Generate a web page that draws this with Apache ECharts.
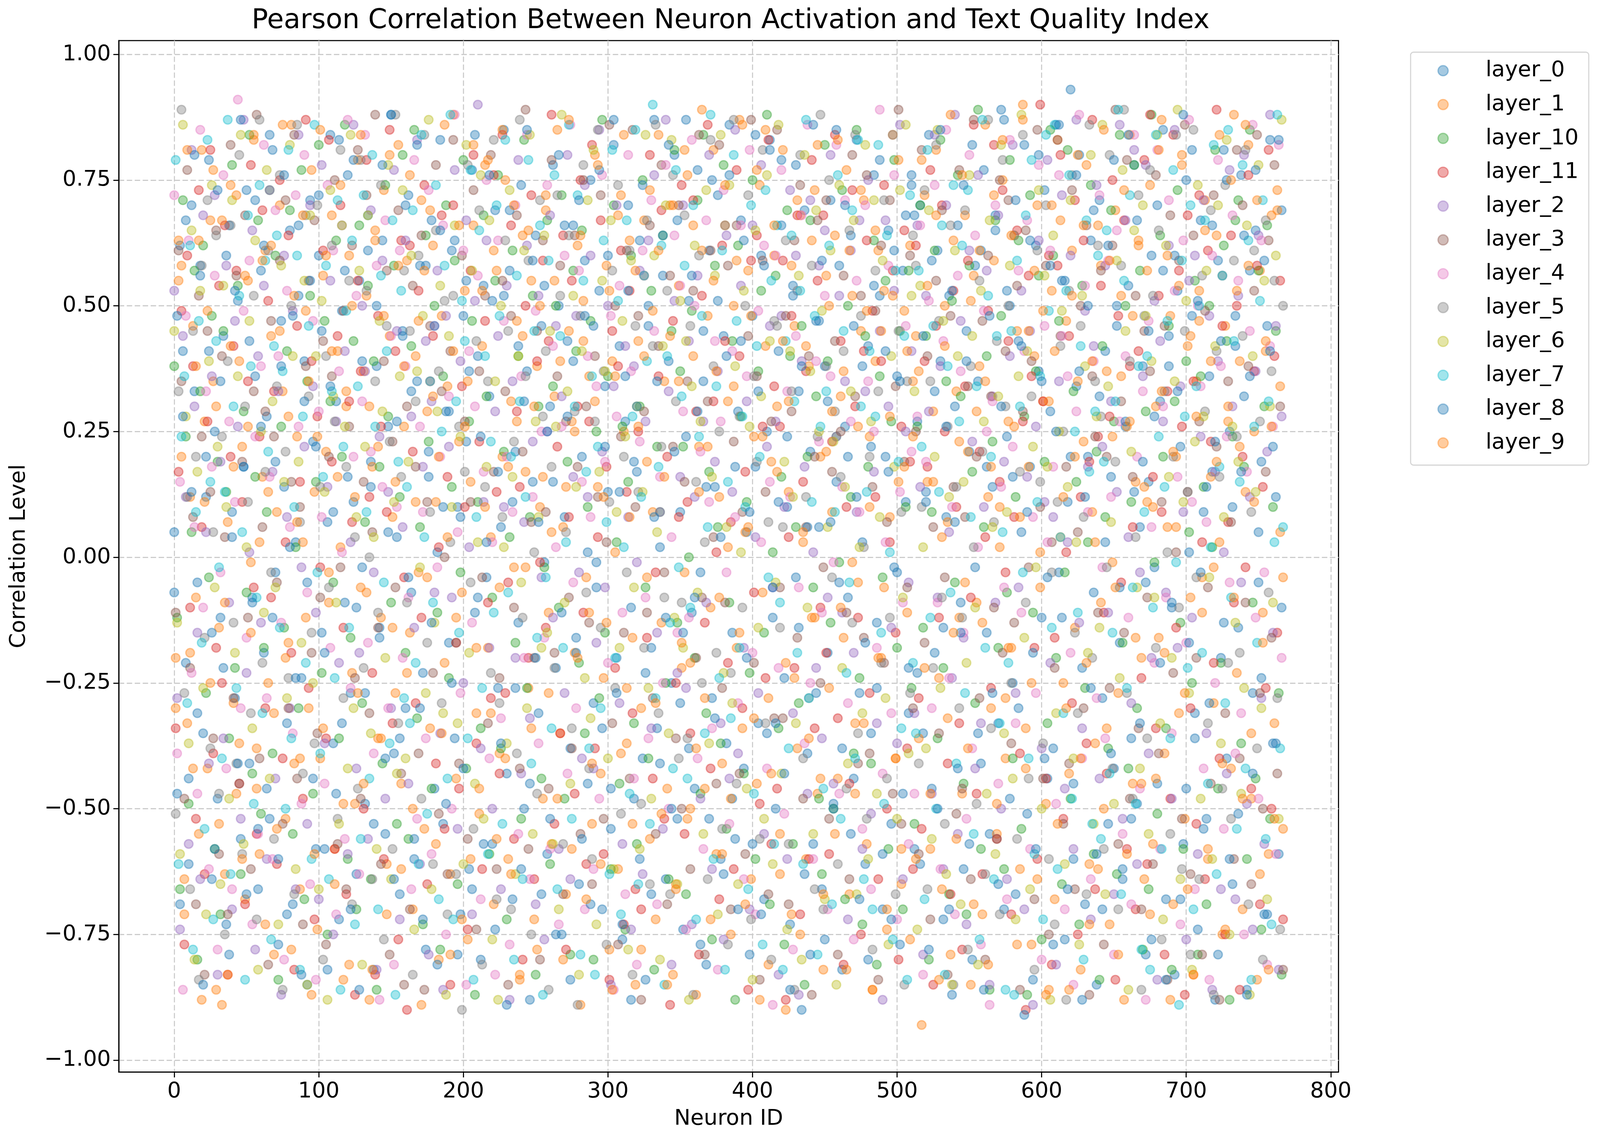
<!DOCTYPE html>
<html>
<head>
<meta charset="utf-8">
<title>Pearson Correlation Between Neuron Activation and Text Quality Index</title>
<script src="https://cdn.jsdelivr.net/npm/echarts@6/dist/echarts.min.js"></script>
<style>
    html, body { margin: 0; padding: 0; background: #fff; overflow: hidden; }
    #chart { width: 100vw; height: 100vh; }
</style>
</head>
<body>
<div id="chart"></div>
<script>
// series order as drawn (names sorted as strings)
const layerNames = ['layer_0', 'layer_1', 'layer_10', 'layer_11', 'layer_2', 'layer_3',
    'layer_4', 'layer_5', 'layer_6', 'layer_7', 'layer_8', 'layer_9'];
const layerColors = ['#1f77b4', '#ff7f0e', '#2ca02c', '#d62728', '#9467bd', '#8c564b',
    '#e377c2', '#7f7f7f', '#bcbd22', '#17becf', '#1f77b4', '#ff7f0e'];
const neuronStart = [0, 1, 0, 1, 0, 1, 0, 1, 0, 1, 0, 1];
const neuronStep = 2;

// correlation level x 100, one value per sampled neuron
const layer0 = [
    5, -47, 62, 41, -21, -61, 70, 33, -5, 58, -35, 12, 79, -64, 25, -48,
    -12, 44, -73, 66, 9, -28, 51, -56, 18, 73, -41, -8, 36, -66, 57, -19,
    28, -52, 81, -3, -77, 47, 14, -33, 65, -69, 3, 52, -24, 39, -85, 71,
    -44, 22, 60, -15, -58, 7, 84, -37, 31, -72, 49, -9, 76, -27, 11, -63,
    55, -2, -49, 68, 19, -82, 38, -14, 63, -55, 26, 88, -39, 4, -67, 45,
    -30, 72, -7, -60, 35, 58, -23, -78, 16, 67, -46, 1, 83, -53, 29, -17,
    61, -36, 10, -71, 48, 23, -62, 77, -11, 40, -80, 54, -4, 32, -57, 69,
    -26, 6, 85, -43, 57, -68, 21, -13, 74, -50, 37, -88, 15, 64, -31, 46,
    -1, -59, 30, 78, -22, 50, -75, 8, 43, -38, 66, -16, -65, 20, 59, -45,
    75, -29, -6, 53, -70, 34, 13, -54, 82, -20, 42, -76, 27, 70, -10, -48,
    17, 63, -40, -84, 46, -18, 87, -34, 2, 56, -64, 39, -25, 80, -52, 9,
    -74, 24, 51, -11, -46, 77, -3, 35, -81, 61, -28, 14, 72, -60, 44, -37,
    86, -15, -56, 29, 67, -42, 5, -79, 48, 18, -33, 60, -68, 25, 83, -12,
    -50, 41, 79, -24, 10, -73, 54, -4, 33, -90, 69, -39, 21, -57, 47, 6,
    -66, 38, -19, 71, -49, 15, 58, -82, 26, -8, 64, -44, 83, -27, 3, -61,
    42, -35, 76, -13, 52, -70, 20, 65, -53, -2, 36, -77, 57, 11, -31, 74,
    -58, 27, 70, -35, 13, 84, -46, -19, 61, 39, -72, 8, 52, -87, 30, 66,
    -9, -62, 45, 21, -80, 58, 35, -41, 77, -15, -55, 14, 68, -33, 89, -70,
    24, 50, -25, -67, 43, 5, 82, -51, 18, -84, 62, 37, -12, 73, -44, 29,
    -38, 86, -3, 55, -76, 11, 93, -60, 34, 80, -22, -69, 20, 63, -7, -85,
    71, -28, 41, -53, 16, -42, 50, -17, -64, 26, 54, -36, 78, -49, 6, 38,
    -79, 15, 60, -2, -45, 31, 85, -68, 44, -10, -83, 53, 22, -57, 75, 1,
    48, -31, -74, 67, 9, -52, 36, 17, -88, 59, -20, 81, -40, 25, -65, 42,
    -14, 76, 32, -86, 57, -27, 65, -5, 19, -71, 46, 83, -37, 12, -59, 69
];
const layer1 = [
    -20, 63, 58, -71, -33, 12, 46, -8, -55, 81, 27, -42, 67, 35, -86, -14,
    -89, -63, 7, 74, -29, -47, 39, 22, -68, 55, -1, 83, -38, -59, 16, 61,
    -25, 44, -79, 9, 70, 33, -52, -17, 86, -41, 24, -66, 3, 49, -30, 77,
    13, -74, -40, 56, 21, -9, 68, -58, 41, 2, -84, 30, 60, -23, -49, 79,
    -6, 37, 52, -88, 18, 65, -36, -12, 73, -61, 44, 8, -27, 82, -45, 26,
    59, -15, -70, 40, -3, 71, -54, 29, -34, 62, 11, -80, 48, -21, 34, -63,
    88, -44, 23, -7, 53, -76, 15, 66, -31, -51, 42, 78, -18, 4, -69, 57,
    -39, 20, 75, -60, 31, -2, 47, -83, 64, 17, -26, 55, -72, 38, 10, -48,
    69, -11, -57, 32, 85, -35, 6, -67, 45, 27, -19, 62, -89, 51, -4, 36,
    -53, 80, 14, -43, -24, 58, -78, 39, 1, -62, 72, 25, -37, 63, -16, -85,
    43, -30, 67, 19, -56, 9, -72, 84, -13, 35, -46, 70, -83, -65, 54, -22,
    -3, 76, -50, 40, -87, 22, 61, -28, 48, -10, 81, -59, 12, -41, 66, 31,
    -75, 50, -18, 87, -34, 5, 57, -64, 24, -45, 74, -7, 42, -81, 19, 60,
    30, -55, 81, -21, 13, -71, 46, -38, 68, 3, -60, 38, -12, 73, -47, 20,
    -82, 56, -26, 9, 64, -44, 32, -16, 77, -67, 52, -33, -5, 45, 71, -57,
    24, -86, 39, 61, -20, 53, -74, 8, 84, -40, 15, -65, 49, -11, 62, 35,
    44, -36, -93, 72, 15, -58, 29, 81, -24, -66, 50, 7, -79, 63, 33, -12,
    -47, 68, 21, -85, 56, -9, 38, -71, 86, 12, -30, 59, -55, 2, 75, -40,
    27, -18, 64, 45, -62, 90, -34, 18, -77, 40, 70, -6, 31, -49, -86, 53,
    -68, 83, 4, -25, 47, -43, 61, -14, 35, -82, 23, 78, -61, 9, -37, 66,
    58, -50, 37, -73, -1, 69, -27, 52, -88, 26, 84, -45, 15, 62, -20, -64,
    11, 74, -57, 30, -16, 87, -39, 6, 48, -69, 20, -31, 80, -52, 42, -8,
    -83, 35, 53, -4, 71, -60, 16, -29, 64, 3, -75, 46, 27, -42, 88, -23,
    39, -70, 13, 82, -48, 25, -84, 57, -11, 41, -59, 68, -33, 73, 5, -54
];
const layer10 = [
    38, -12, -66, 71, 24, -49, 5, 57, -80, 33, 62, -27, -4, 48, -58, 19,
    -71, 45, 13, -36, 78, -22, 54, -63, 29, -7, 84, -43, 16, 67, -51, -18,
    9, 73, -39, 60, -84, 26, -14, 41, 69, -55, 2, -30, 77, -68, 35, 52,
    -47, 15, 82, -23, 47, -75, 31, -5, 63, -36, 20, 86, -60, -16, 43, -70,
    66, -29, 7, 54, -64, 39, -86, 18, -41, 74, 28, -9, 58, -53, 12, 80,
    -19, -56, 42, 85, -32, 6, -73, 64, 23, -46, 50, -11, -78, 36, 70, -24,
    14, 59, -65, -3, 79, -42, 27, 47, -87, 11, -34, 68, 32, -59, -8, 55,
    76, -38, 21, -72, 4, 61, -17, 40, -52, 83, -26, 8, 52, -83, 30, -44,
    -2, 67, -61, 34, 50, -10, 72, -48, 19, -79, 57, 41, -21, 65, -35, 10,
    47, -80, 25, -28, 87, -15, 36, -62, 70, 3, -45, 26, -74, 15, 60, -33,
    -57, 30, 75, -6, -40, 53, -82, 22, 9, 64, -25, -64, 45, 81, -13, 37,
    22, -67, 0, 49, -20, 71, -47, 84, -31, 17, -76, 58, 6, -37, 78, -54,
    -9, 43, -88, 62, 28, -43, 11, -23, 75, -60, 37, 53, -15, 88, -69, 1,
    56, -34, 16, -77, 69, 40, -57, 6, -29, 46, -85, 20, 67, -6, 32, -48,
    -63, 82, 39, -13, -50, 24, -1, 73, -68, 50, 12, -39, 85, -24, -73, 44,
    18, -41, 63, -81, 36, -4, 55, -58, 27, 79, -18, 45, -70, 10, 57, -26,
    -53, 26, 70, -14, 44, -80, 9, 61, -36, 83, -22, 35, -67, 51, -5, 76,
    32, -45, -71, 58, 17, -29, 89, -58, 6, 40, -86, 23, 67, -18, 48, -62,
    -7, 79, -40, 12, 63, -54, 28, -87, 72, -11, 37, 56, -76, 19, -33, 85,
    60, -20, 47, -65, -3, 81, -48, 33, 15, -73, 54, -26, 3, 74, -59, 21,
    -84, 42, 8, -38, 69, 27, -63, 84, -17, 50, -42, 11, 78, -30, 57, -78,
    29, -66, 88, -1, -51, 64, 20, -34, 46, -82, 31, 73, -13, -58, 39, 5,
    -25, 55, -79, 36, 14, -69, 50, 2, 81, -46, -21, 62, 43, -88, 24, 67,
    71, -37, 18, -60, 85, -9, -44, 57, -74, 30, 66, -52, 10, 45, -27, -83
];
const layer11 = [
    -34, 17, 49, -77, 60, -10, 38, -52, 73, 6, -63, 27, 81, -39, -18, 54,
    -25, 66, -83, 20, 42, 57, -45, 11, -69, 35, 78, -6, -55, 24, 69, -30,
    51, -8, 33, -61, 75, -40, 3, 64, -19, -82, 46, 15, -48, 87, -26, 39,
    -72, 28, -2, 61, -36, 83, 19, -58, 44, 70, -14, -67, 31, 7, -87, 55,
    37, -50, 79, 12, -23, -83, 48, 26, -60, 9, 85, -33, 41, -76, 63, -4,
    -90, 62, 21, -29, 53, -12, 74, -65, 35, 44, -41, 2, 68, -54, 16, -85,
    70, -17, -46, 34, 10, -74, 57, 80, -37, 23, -62, 47, -9, -28, 76, 13,
    -43, 84, -27, -5, 66, -56, 29, 14, -80, 50, -20, 72, -64, 39, -1, 59,
    -14, 43, 88, -53, 22, -35, 64, -78, 8, 55, -47, 30, 75, -11, -61, 27,
    82, -38, 4, 67, -59, 18, -84, 45, -22, 38, 61, -73, 13, 53, -31, -66,
    25, -70, 56, -16, 80, -44, -3, 36, 69, -52, 20, -89, 47, -25, 8, 74,
    -55, 11, -35, 71, 29, -79, 52, -13, 86, -42, 31, 1, -68, 62, 43, -21,
    7, -62, 77, 40, -30, 17, -86, 59, -7, 64, -49, 26, -24, 83, -57, 34,
    -46, 26, 59, -88, 4, 48, -22, 68, -71, 15, 37, -60, 79, -34, 55, -10,
    68, -19, -59, 23, 84, -32, 43, -81, 10, -45, 73, 30, -12, -75, 41, 63,
    -27, 49, 12, -64, 39, 74, -50, 3, 57, -15, -80, 26, 65, -38, 19, -62,
    62, -28, -54, 39, 18, 77, -85, 46, -12, 70, 25, -41, -67, 53, 10, -33,
    -78, 34, 59, -8, 86, -47, 21, -63, 4, 49, -26, 82, -56, 15, 73, -3,
    43, -71, 8, 65, -39, 27, -90, 56, 36, -18, -60, 90, 31, -44, 60, -81,
    -16, 58, 80, -52, 1, 44, -29, 71, -75, 12, 63, -37, 19, 87, -66, 24,
    54, -11, -43, 28, 75, -84, 48, -5, 67, -58, 38, 6, -70, 41, -24, 79,
    -61, 88, 16, -34, 52, 9, -79, 33, -48, 84, -14, 57, 26, -87, 68, -30,
    35, -53, 72, 3, -64, 61, 23, -21, 89, -40, 46, -75, 7, 64, -9, 50,
    -86, 20, -2, 76, -46, 37, 58, -69, 14, -26, 81, -50, 40, -15, 55, -72
];
const layer2 = [
    53, -28, -74, 44, 12, -57, 81, 30, -15, -64, 68, 5, -41, 36, 72, -83,
    19, -36, 58, -9, -70, 47, 26, -52, 87, -23, 1, 65, -78, 40, -13, 54,
    -60, 73, 17, -44, 33, -87, 60, 8, -30, 49, -66, 84, -2, 22, -53, 70,
    34, -11, -68, 78, -37, 14, 55, -75, 27, -21, 66, 41, -59, 3, 86, -42,
    -19, 50, 37, -56, 69, -3, -82, 24, 59, -48, 13, -30, 77, 45, -72, 6,
    63, -45, 28, -14, 83, -61, 18, 43, -79, 31, -7, 57, -35, -86, 48, 22,
    -8, 77, -54, 39, -25, 67, 2, -71, 51, 90, -38, 11, 63, -18, -50, 29,
    44, -66, 10, 54, -88, 35, -20, 79, -43, 7, 62, -32, 23, -69, 52, -4,
    -76, 25, 68, -12, 46, -58, 32, -27, 80, -64, 16, 48, -3, -40, 74, 12,
    60, -42, -17, 85, 21, -6, 50, -85, 34, 70, -29, -57, 42, 8, -74, 38,
    -1, 57, -63, 27, 63, -34, 76, -15, 9, -54, 87, 33, -81, 51, -23, 16,
    70, -26, 43, -73, 12, 56, -48, 27, -9, 80, -62, 19, 37, -33, -76, 64,
    -44, 13, 85, -39, 54, -18, 31, -70, 66, 4, -27, 78, -55, 22, 46, -6,
    27, -83, 48, 10, -60, 73, -31, 60, -87, 39, 18, -47, 71, 1, -22, 58,
    -36, 65, -8, 80, -45, 24, 52, -11, 35, -72, 61, -19, 9, 67, -58, 33,
    75, -51, 17, -33, 45, -88, 67, 30, -14, 53, -37, 86, -64, 25, -5, 41,
    -31, 66, 14, -79, 52, 29, -47, 84, -8, 38, -62, 70, 5, -24, 88, -55,
    47, -16, -73, 61, 23, -42, 76, -33, 10, 57, -85, 32, -9, 68, -50, 19,
    -64, 40, 82, -27, -6, 53, -70, 16, 45, -89, 26, 63, -38, 11, 79, -21,
    8, -81, 35, 72, -46, 3, 60, -58, 87, -13, -34, 49, 18, -72, 42, 74,
    -44, 22, 58, -11, 31, -67, 13, 86, -52, 67, 4, -29, 81, -61, -3, 36,
    78, -39, -20, 51, -84, 43, 27, -7, 62, -48, 85, -18, 34, 9, -76, 55,
    -12, 60, -59, 24, 71, -35, 48, -86, 17, 39, -66, 1, -43, 77, 30, -68,
    52, -5, 80, -49, 12, -74, 37, 64, -28, -57, 21, 88, -15, 46, -82, 28
];
const layer3 = [
    -11, 61, 35, -48, 77, -22, 8, -69, 52, 24, -83, 45, 13, -36, 65, -59,
    40, 4, -71, 82, -28, 56, -45, 19, 68, -12, -62, 33, 88, -40, 6, 29,
    -81, 47, 24, -5, 59, -53, 71, -30, 15, 84, -44, 10, -73, 38, 55, -19,
    67, -35, -8, 43, -77, 20, 36, 75, -57, -2, 49, -66, 26, 62, -24, 81,
    -48, 15, 72, -31, 5, 88, -14, -61, 39, 57, -79, 23, -6, 69, -43, -85,
    30, -70, 54, 18, -39, 64, -86, 11, 46, -23, 78, -51, 33, 0, -63, 41,
    83, -17, -41, 60, 27, -56, 11, 73, -74, 37, -4, 52, -33, 80, 17, -62,
    -24, 55, 33, -85, 48, -10, 68, -42, 21, 89, -58, 7, -20, 45, -80, 63,
    9, -46, 79, -19, 36, 58, -67, 27, -8, -38, 64, 18, -55, 75, 30, -13,
    -65, 40, 12, 72, -52, 3, 86, -33, 50, -77, 24, -15, 61, -44, 85, 10,
    48, -88, 29, -11, 66, -28, -55, 42, 78, -3, -69, 56, 22, -36, 70, -50,
    15, 35, -62, 53, -20, 84, -8, -79, 31, 61, 4, -45, 82, -26, -9, 58,
    -70, 23, 66, -43, 9, -59, 44, 87, -21, 36, -84, 59, 13, -67, 27, -32,
    85, -6, -32, 48, -69, 29, 63, -16, 74, -48, 6, 40, -87, 20, 67, -25,
    -2, 71, -52, 17, 43, -79, 25, 56, -11, -64, 80, 32, -41, 52, -16, 76,
    -39, 14, 49, -84, 62, -21, 7, 71, -47, 34, 89, -53, 19, -6, 60, -30,
    25, -59, 81, -17, 40, -72, 6, 55, -35, 69, -4, -83, 48, 14, -51, 77,
    -46, 8, 34, -64, 87, 20, -28, 47, -80, 60, 32, -10, -56, 75, -19, 41,
    71, -37, -13, 54, -86, 29, 65, -2, 39, -68, 85, 10, -44, 58, -75, 3,
    -22, 83, 44, -53, 18, -41, 73, -66, 5, 50, -30, 66, -87, 36, 24, -11,
    57, -77, 20, -26, 62, 89, -57, 31, -15, 79, -48, 16, 52, -34, -70, 45,
    -8, 37, -61, 76, -39, 11, 46, -84, 68, -23, 1, 59, -52, 86, 13, -63,
    64, -20, 27, -79, 49, -6, -45, 72, 22, -88, 56, -31, 35, 7, -60, 81,
    -40, 70, -9, 38, -65, 53, 84, -27, -50, 17, 63, -16, 78, -43, 30, -82
];
const layer4 = [
    72, -39, 15, -86, 48, 63, -23, 6, -47, 85, -10, 33, -62, 18, 56, -78,
    -3, 76, -42, 27, -66, 11, 91, -30, 49, -16, 59, -73, 24, -55, 38, 82,
    -28, 16, -60, 69, 40, -13, -80, 53, 6, -35, 72, 26, -49, 80, -7, -65,
    47, -84, 29, 8, -45, 74, -18, 61, -71, 37, 1, -56, 87, -26, 20, 52,
    -63, 31, 84, -17, 21, -39, 58, -88, 14, 67, -30, 44, -81, 10, 61, -20,
    38, -8, -66, 79, -52, 26, 9, -36, 73, -59, 46, -2, 20, 66, -75, 32,
    -50, 88, 5, -27, 61, -85, 41, -13, 30, 56, -68, 17, 75, -40, 3, -83,
    63, -32, 47, 20, -77, 9, 70, -55, 36, -20, 84, -64, 12, 49, -37, 25,
    -16, 74, -58, 42, 2, -73, 26, 60, -43, 86, -5, -30, 57, 15, -70, 40,
    8, -62, 34, -48, 76, 19, -21, 48, -86, 28, 54, -11, -67, 80, 37, -44,
    -81, 23, 61, -8, -36, 71, 45, -69, 16, -25, 78, -50, 4, 64, -15, 54,
    29, -74, -12, 83, 50, -40, 21, -58, 67, 11, -34, 43, -82, 27, 73, -3,
    -53, 41, 8, -29, 66, -64, 36, 81, -19, -71, 49, 3, 62, -42, 15, -89,
    60, -22, 77, -51, 33, 12, -78, 44, -6, 68, -37, 86, -25, -60, 39, 23,
    -11, 52, -70, 36, -1, 82, -47, 14, 71, -29, 27, -76, 55, 9, -54, 70,
    35, -66, 25, -18, 89, -43, 3, 58, -31, 76, -72, 13, -9, 46, -57, 21,
    -47, 28, 66, -83, 19, 51, -30, 74, -9, -62, 43, 85, -24, 10, -71, 56,
    37, -15, -52, 80, -38, 64, 2, -77, 49, 25, -89, 31, 70, -45, 14, -6,
    -68, 83, 22, -33, 57, -11, 41, 67, -58, 8, -27, 78, -80, 46, 3, 61,
    18, -49, 76, 44, -70, 36, -19, -85, 29, 88, -40, 54, 9, -64, 39, -28,
    72, -2, -36, 59, 12, -79, 65, 27, -55, 40, -12, -69, 84, 20, -46, 33,
    -88, 47, 6, -21, 81, -58, 30, -8, 71, -35, 53, 16, -73, 63, -17, 87,
    11, -66, 50, 34, -42, 7, -84, 60, -25, 79, 38, -54, 24, -5, 68, -39,
    55, -31, -75, 17, 45, 86, -12, -48, 63, -3, -81, 42, 26, -59, 82, -20
];
const layer5 = [
    -51, 33, 89, -27, 12, -66, 45, 20, -84, 58, -16, 71, -38, 5, 64, -47,
    24, -75, 39, 66, -13, -41, 80, -59, 30, 11, -31, 52, -72, 87, -21, 17,
    61, -3, -56, 34, 76, -86, 21, -24, 50, -67, 86, 7, -43, 68, 32, -15,
    -37, 70, 14, -80, 40, -6, 62, 27, -52, 81, -28, 18, 55, -69, 4, -46,
    79, -22, 53, 0, -64, 35, -11, 74, -76, 46, 23, -58, 88, -33, 16, 57,
    -9, 45, -83, 31, 60, -48, 84, -17, 9, -61, 65, 37, -29, 51, -71, 3,
    52, -63, 26, -90, 17, 78, -5, -54, 43, 69, -81, 14, 35, -23, 83, -68,
    -29, 8, 63, 45, -70, 23, -39, 87, -12, 36, 59, -75, 1, -47, 71, 28,
    41, -86, 18, -22, 72, 52, -57, 5, 64, -34, 29, -89, 48, 78, -7, -42,
    -60, 27, 85, -14, 37, -77, 11, 57, -26, 74, -51, 20, -3, 61, -83, 46,
    13, -49, -18, 67, -65, 42, 86, -31, 22, -8, 53, -67, 76, 31, -40, -9,
    68, -36, 46, -87, 15, 60, -25, 3, -64, 83, 38, -19, 25, -54, 66, -77,
    -23, 87, -45, 28, -10, 50, 72, -72, 36, 19, -56, 81, -33, 7, -80, 47,
    46, -14, 6, 63, -57, 33, -86, 53, 80, -40, 12, -28, 58, -66, 24, 88,
    -70, 38, 75, -4, 29, -61, 16, 41, -46, 65, -13, 84, -35, 48, 2, -52,
    20, -78, 57, 33, -21, 71, -44, -12, 84, -67, 45, 9, -85, 35, -27, 64,
    58, -41, 10, 73, -66, 35, -22, 82, 47, -8, -53, 26, 66, -85, 14, -30,
    -12, 69, -78, 38, 2, -49, 55, 21, -63, 87, -34, 7, 43, -71, 79, 30,
    50, -25, 64, -56, 17, 84, -9, -44, 32, -82, 61, 15, -37, 70, -60, -3,
    -73, 11, 42, 25, -88, 53, 76, -15, -31, 46, 8, -67, 86, -20, 35, 62,
    28, -58, -2, 80, -42, 19, -70, 58, 89, -27, 39, -48, 4, 72, -86, 48,
    -36, 77, 52, -18, 65, -76, 33, 1, -55, 20, 84, -10, -62, 45, 13, -79,
    85, -4, -64, 56, 29, -33, 69, -87, 41, 16, -46, 74, -21, -52, 59, 24,
    -19, 44, 81, -69, 9, 61, -38, 27, -80, 67, -7, 37, 55, -28, -74, 50
];
const layer6 = [
    45, -13, -59, 86, 28, -37, 65, -80, 17, 53, -26, -71, 39, 74, -6, 22,
    -65, 54, 10, -48, 71, -19, 36, 84, -57, 2, 47, -34, 63, -82, 25, -11,
    77, -44, 31, -6, -73, 58, 15, -28, 82, 40, -62, 19, -17, 55, -85, 68,
    -25, 40, -66, 51, 13, -88, 73, 32, -9, -53, 66, 26, -42, 84, -30, 8,
    57, -81, 22, 68, -35, 4, -58, 47, 29, -20, 78, -64, 11, -43, 36, 73,
    -40, 19, 60, -74, 37, -2, 48, -27, 87, -66, -13, 29, 54, -31, -87, 44,
    10, 66, -33, 24, -61, 82, -19, 57, -45, 3, 76, -52, 18, 67, -76, 35,
    -88, 50, 2, -37, 73, 16, -63, 40, -5, 61, -30, 84, -55, 27, 8, -18,
    64, -15, 45, -57, 26, -70, 88, -9, 33, -45, 52, 14, -83, 41, -24, 71,
    -32, 81, -73, 17, 55, 37, -40, 67, -62, 9, -18, 47, 24, -78, 59, -6,
    30, -58, 13, 84, -26, -48, 60, 5, -80, 42, 70, -35, 83, -12, -65, 51,
    -18, 43, -88, 34, 62, -7, 27, -55, 73, -37, 16, 56, -71, 84, -23, 6,
    74, -29, 38, -65, 1, 53, -46, 26, -84, 65, -14, 32, -52, 76, 43, -61,
    -5, 86, -43, 19, -74, 41, 12, -33, 56, -80, 80, -10, 37, -55, 69, 25,
    49, -68, 6, 61, 23, -85, 74, -22, 14, -41, 33, 67, -67, 2, -31, 82,
    -60, 27, 71, -47, 8, 59, -28, -77, 40, 18, -52, 73, -8, 86, -39, 52,
    33, -74, 54, 2, -38, 69, -56, 20, 85, -26, 47, -63, 12, -85, 61, 40,
    -69, 15, -21, 76, 44, -10, -81, 53, 27, -47, 67, 6, -59, 32, 82, -35,
    9, 58, -44, -72, 36, 88, -16, 41, -66, 22, -2, 73, -50, 56, 18, -88,
    64, -31, 25, 49, -61, 14, 71, -40, 3, -77, 52, 38, -19, 80, -53, 28,
    -14, 86, -67, 34, 7, -49, 59, -24, 77, 45, -86, 21, 65, -6, -42, 70,
    48, -55, 39, -8, 84, -33, -72, 62, 16, -20, 35, 89, -64, 11, 51, -27,
    -82, 23, 74, -48, 28, 57, -4, -60, 42, 70, -37, 8, 83, -75, 26, -13,
    19, -47, -26, 66, -87, 40, 13, 78, -30, 55, -68, 30, -9, 60, -52, 87
];
const layer7 = [
    79, -61, 24, 36, -29, 62, -78, 9, 47, -17, -54, 83, 15, -72, 43, -2,
    -40, 13, 87, -63, 30, -26, 52, 5, -84, 68, 38, -49, -8, 74, -31, 59,
    21, -76, 42, 64, -14, 37, -50, 81, -36, 10, 60, -82, 28, -21, 46, -60,
    86, -3, -39, 16, 58, -64, 33, -24, 71, -86, 22, 49, -14, 63, -73, 34,
    -56, 72, 9, -44, 80, 26, -70, 56, -5, 41, -37, 67, -87, 19, 53, -28,
    14, -33, 69, -21, -61, 84, 4, -51, 35, -9, 74, -68, 25, 58, -44, 88,
    -72, 31, -15, 51, 43, -36, 77, -84, 8, 65, -26, 40, -59, 23, -11, 70,
    48, -53, 83, -7, 20, -80, 56, 31, -64, 12, 79, -41, 45, -16, 66, -87,
    -4, 59, -34, 76, -66, 44, -18, 3, 86, -52, 30, 72, -79, 55, 17, -38,
    36, -83, 22, -30, 63, 7, -63, 81, -20, 51, -71, 2, 67, -47, 28, 85,
    -65, 12, 56, 39, -53, 90, -28, 18, 62, -85, 40, -13, -42, 77, -2, 32,
    58, -44, -10, 70, -72, 24, 48, -35, 6, 88, -60, 34, -24, 61, -82, 15,
    -32, 80, 47, -18, 28, 10, -66, 70, -47, 42, 20, -77, 73, -4, 55, -57,
    66, -9, -82, 43, -38, 64, 31, -19, 53, -61, 87, -28, 11, 48, -79, 26,
    -46, 33, 62, -69, 9, 76, -52, 45, -23, -5, 69, -40, 83, 30, -64, 13,
    41, -70, 28, 82, -15, -49, 64, 1, -76, 57, 19, -34, 44, -84, 72, -21,
    -35, 57, 22, -68, 81, -12, 46, -50, 13, 66, -83, 38, -7, 74, -41, 27,
    62, -27, 73, 8, -55, 34, -76, 87, -18, 52, 20, -64, 44, -33, 5, -86,
    -21, 45, -87, 59, 30, -3, 68, -40, 79, -59, 11, 36, -72, 84, 49, -14,
    86, -62, 4, -31, 53, 76, -48, 25, -11, 42, -80, 67, 17, -53, 29, 60,
    -56, 19, 65, -43, -15, 31, 89, -67, 55, -26, 72, -6, -49, 38, -78, 9,
    40, -82, -10, 84, 24, -58, 14, 47, -36, 77, -1, -89, 59, 28, -22, 70,
    -70, 34, 50, -19, 67, -45, 2, 82, -63, 18, 56, -29, 85, -8, 43, -54,
    15, 78, -42, 63, -84, 26, -17, 51, 71, -56, 31, -73, 3, 88, -38, 6
];
const layer8 = [
    -7, 48, -69, 28, 67, -44, 13, 80, -31, 56, -85, 20, 41, -15, -58, 73,
    35, -22, 60, -79, 4, 53, -41, 87, 18, -67, 43, -9, 71, -54, 26, 62,
    -46, 84, -12, 19, -60, 38, 76, -71, 2, 48, -24, 66, -83, 31, -5, 55,
    23, -58, 72, 45, -19, -82, 34, 9, -47, 83, -33, 57, 16, -70, 79, -10,
    -86, 39, -27, 61, 14, -53, 50, -16, 78, -40, 5, 88, -64, 27, -36, 44,
    70, -4, 33, -56, 82, -30, -72, 58, 21, -13, 46, -81, 65, 10, -49, 29,
    -25, 63, -79, 8, -42, 55, 37, -66, 84, -8, 24, -57, 3, 76, 51, -74,
    17, -37, 52, -89, 69, 11, -26, 42, -62, 31, 85, -45, 59, -20, 7, -67,
    54, 25, -52, 15, -75, 80, -11, 66, 28, -84, 39, -19, 71, -56, 48, 1,
    -69, 46, -1, 77, -34, 22, 60, -46, 87, -27, 13, -73, 36, 53, -88, 19,
    30, -60, 74, -23, 50, -67, 8, 35, -41, 64, -12, 82, -50, 21, 67, -29,
    -15, 87, -38, 56, -8, 29, -77, 45, 14, -52, 75, -32, 51, 4, -63, 40,
    76, -48, 18, -70, 43, 63, -20, 9, -57, 84, 33, -71, 58, -35, 81, -6,
    -33, 11, 66, -43, 24, -86, 52, 78, -14, 38, -63, 6, -79, 86, -27, 47,
    59, -76, 31, 7, -50, 85, -5, -38, 70, 20, -55, 46, 12, -68, 38, -17,
    -80, 22, 54, -26, 79, -59, 41, 17, -72, 61, -3, 35, -47, 68, -22, 76,
    68, -23, -61, 44, 11, -78, 59, 33, -50, 85, -14, 26, -70, 53, 7, -42,
    -15, 74, 39, -57, 82, -2, -35, 61, -86, 18, 48, -27, 65, -65, 30, 87,
    53, -48, 16, 71, -30, 42, -91, 9, 63, -19, -58, 80, 35, -40, -4, 58,
    -77, 25, 86, -12, 55, -66, 20, -45, 76, 37, -88, 12, 50, -26, 69, -59,
    32, -70, 3, 62, -39, 79, 46, -6, -62, 27, 84, -52, 13, 67, -33, 19,
    -5, 45, -76, 28, 70, -21, 57, -84, 38, -9, 60, 33, -68, 88, -46, -17,
    81, -36, 51, -3, -54, 14, -29, 66, 23, -79, 43, -13, 75, -60, 10, 48,
    -51, 17, 64, -87, 36, -43, 77, 5, -24, 59, -71, 41, 22, -37, 83, -10
];
const layer9 = [
    -30, 55, 20, -64, 81, -19, -42, 38, 63, -88, 11, 49, -25, 77, 30, -53,
    67, -9, -83, 42, 18, 72, -37, -60, 56, 26, -15, 84, -46, 3, 59, -73,
    13, 62, -31, -54, 45, 86, -20, 28, -78, 52, 7, -40, 68, -12, 35, -87,
    -59, 24, 85, -34, 60, -3, 41, -65, 16, 74, -49, 33, -81, 50, 12, -27,
    84, -45, -7, 30, -82, 63, 22, -36, 48, -71, 80, -14, 15, 58, -62, 38,
    -23, 76, -50, 11, 47, -89, 57, -4, 69, 32, -57, 20, -35, 86, 4, -79,
    41, -12, 66, -72, 26, 35, -60, 82, -18, -46, 53, 10, 79, -31, 61, -56,
    -6, 85, -40, 18, -63, 70, 27, -84, 44, -2, 65, -34, 30, -78, 50, 16,
    72, -27, 5, 55, -48, 39, -80, 14, 87, -58, 25, -20, 64, 43, -68, -11,
    -41, 31, 78, -61, 12, -13, 53, -86, 36, 68, -39, 84, -26, 8, -53, 57,
    26, -78, 40, -4, 73, 49, -29, 61, -51, 16, -85, 44, 70, -66, 35, -17,
    81, -52, -21, 66, -38, 13, 89, -46, 22, -72, 55, 37, -8, -59, 74, 2,
    -48, 34, 59, -15, 86, -69, 6, 48, -32, 77, -88, 24, 85, -28, -43, 66,
    17, -63, 43, -90, 31, 58, -24, 71, -75, 5, 42, -36, 63, -12, 82, -44,
    -67, 21, 50, 29, -55, 83, -10, 37, -82, 61, -1, -47, 26, 73, -33, 49,
    10, -86, 65, -20, 45, -6, -70, 28, 52, -40, 79, -58, 18, 41, -76, 24,
    -60, 37, 79, -22, 54, -47, 15, 68, -84, 4, 42, -32, 88, -15, -56, 23,
    76, -5, -38, 51, -69, 29, 61, -13, 35, -81, 18, 72, -49, 10, 83, -28,
    -18, 64, 26, -77, 8, 87, -42, 45, -25, 57, -64, 1, 49, -87, 31, 70,
    41, -53, 67, 12, -30, -86, 52, 20, 80, -40, 66, -21, -73, 39, 3, -62,
    -9, 85, -34, 59, 24, -6, -79, 36, 73, -59, 27, 48, -16, 63, -45, 14,
    57, -71, 10, -44, 81, 33, -19, 60, -88, 21, 6, 54, 78, -27, -66, 44,
    -83, 28, 47, -11, 65, -58, 39, -2, 19, 84, -41, -74, 30, 75, -8, 53,
    22, -48, 86, 58, -35, 11, 71, -63, -17, 43, -82, 26, -52, 69, 34, -4
];
const layerValues = [layer0, layer1, layer10, layer11, layer2, layer3,
    layer4, layer5, layer6, layer7, layer8, layer9];

const xTicks = [0, 100, 200, 300, 400, 500, 600, 700, 800];
const yTicks = [-1, -0.75, -0.5, -0.25, 0, 0.25, 0.5, 0.75, 1];

const FONT = 'DejaVu Sans';

// layout was measured on a 4418 x 2925 canvas; scale to the real viewport
const S = Math.min(window.innerWidth / 4418, window.innerHeight / 2925);
function px(v) {
    return v * S;
}

function rgba(hex, a) {
    const n = parseInt(hex.slice(1), 16);
    return 'rgba(' + (n >> 16) + ',' + ((n >> 8) & 255) + ',' + (n & 255) + ',' + a + ')';
}

const series = layerNames.map(function (name, k) {
    const c = layerColors[k];
    return {
        name: name,
        type: 'scatter',
        symbol: 'circle',
        symbolSize: px(24),
        itemStyle: {
            color: rgba(c, 0.5),
            borderColor: rgba(c, 0.5),
            borderWidth: px(3.5)
        },
        emphasis: {disabled: true},
        data: layerValues[k].map(function (v, i) {
            return [neuronStart[k] + neuronStep * i, v / 100];
        })
    };
});

const chart = echarts.init(document.getElementById('chart'), null, {renderer: 'canvas'});

const option = {
    animation: false,
    backgroundColor: '#ffffff',
    title: {
        text: 'Pearson Correlation Between Neuron Activation and Text Quality Index',
        left: px(2012),
        top: px(15),
        textAlign: 'center',
        textStyle: {fontFamily: FONT, fontSize: px(75), fontWeight: 'normal', color: '#000'}
    },
    legend: {
        orient: 'vertical',
        left: px(3895),
        top: px(144),
        padding: [px(21), px(28), px(31), px(74)],
        itemGap: px(33),
        itemWidth: px(28),
        itemHeight: px(28),
        icon: 'circle',
        selectedMode: false,
        borderColor: '#d5d5d5',
        borderWidth: px(3),
        borderRadius: px(8),
        itemStyle: {borderWidth: px(3.5)},
        formatter: function (name) {
            return '{g|\u00a0}{t|' + name + '}';
        },
        textStyle: {
            fontFamily: FONT, fontSize: px(60), lineHeight: px(60), color: '#000',
            rich: {
                g: {width: px(98), fontSize: px(60), lineHeight: px(60)},
                t: {fontFamily: FONT, fontSize: px(60), lineHeight: px(60), color: '#000'}
            }
        },
        data: layerNames
    },
    grid: {
        left: px(328),
        right: px(722),
        top: px(112),
        bottom: px(196),
        show: true,
        borderColor: '#000',
        borderWidth: px(3),
        containLabel: false,
        outerBoundsMode: 'none'
    },
    xAxis: {
        type: 'value',
        min: -38.35,
        max: 805.35,
        name: 'Neuron ID',
        nameLocation: 'middle',
        nameGap: px(100),
        nameTextStyle: {fontFamily: FONT, fontSize: px(60), color: '#000'},
        axisLine: {show: true, onZero: false, lineStyle: {color: '#000', width: px(3)}},
        axisTick: {show: true, inside: false, length: px(15), customValues: xTicks,
            lineStyle: {color: '#000', width: px(3)}},
        axisLabel: {customValues: xTicks, fontFamily: FONT, fontSize: px(60), color: '#000', margin: px(24)},
        splitLine: {show: true, lineStyle: {color: '#cccccc', width: px(3), type: [px(15), px(7)]}}
    },
    yAxis: {
        type: 'value',
        min: -1.0235,
        max: 1.0274,
        name: 'Correlation Level',
        nameLocation: 'middle',
        nameGap: px(245),
        nameTextStyle: {fontFamily: FONT, fontSize: px(60), color: '#000'},
        axisLine: {show: true, onZero: false, lineStyle: {color: '#000', width: px(3)}},
        axisTick: {show: true, inside: false, length: px(15), customValues: yTicks,
            lineStyle: {color: '#000', width: px(3)}},
        axisLabel: {
            customValues: yTicks, fontFamily: FONT, fontSize: px(60), color: '#000', margin: px(22),
            formatter: function (v) {
                return (v < 0 ? '\u2212' : '') + Math.abs(v).toFixed(2);
            }
        },
        splitLine: {show: true, lineStyle: {color: '#cccccc', width: px(3), type: [px(15), px(7)]}}
    },
    series: series
};

chart.setOption(option);
</script>
</body>
</html>
